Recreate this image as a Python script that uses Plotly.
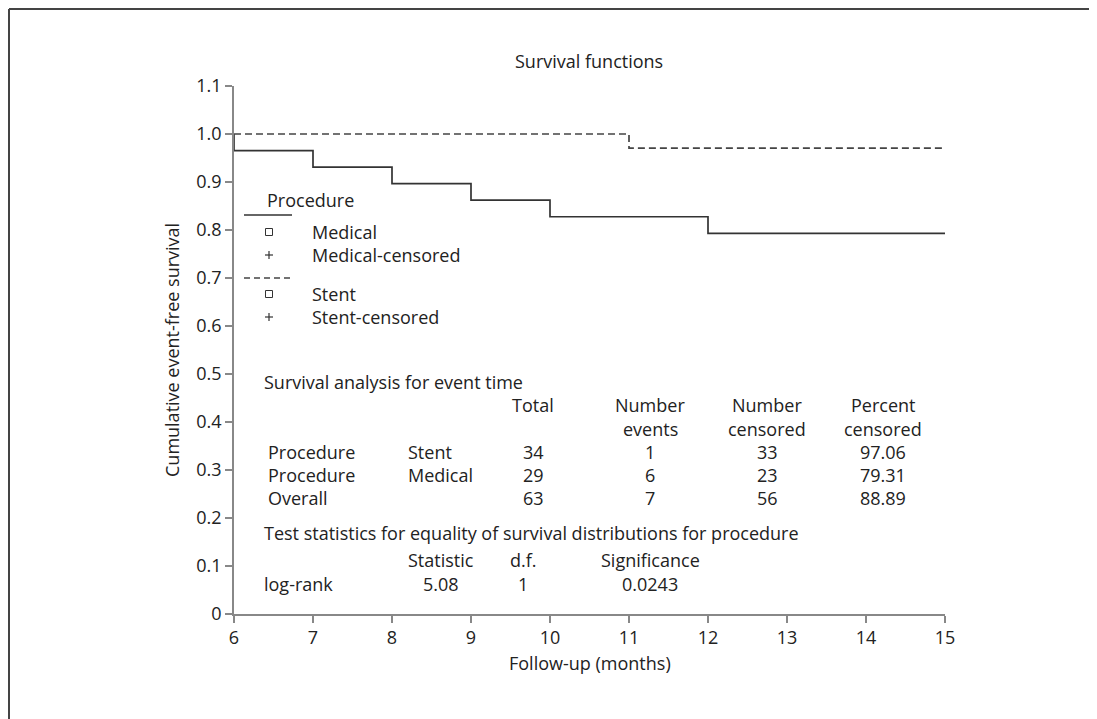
import plotly.graph_objects as go

# ---- data ----
medical_t = [6, 6, 7, 8, 9, 10, 12, 15]
medical_s = [1.0, 0.9655, 0.9310, 0.8966, 0.8621, 0.8276, 0.7931, 0.7931]
stent_t = [6, 11, 15]
stent_s = [1.0, 0.9706, 0.9706]

x_ticks = [6, 7, 8, 9, 10, 11, 12, 13, 14, 15]
y_ticks = [0, 0.1, 0.2, 0.3, 0.4, 0.5, 0.6, 0.7, 0.8, 0.9, 1.0, 1.1]
y_ticktext = ["0", "0.1", "0.2", "0.3", "0.4", "0.5", "0.6", "0.7", "0.8", "0.9", "1.0", "1.1"]

legend_title = "Procedure"
legend_items = ["Medical", "Medical-censored", "Stent", "Stent-censored"]

table_title = "Survival analysis for event time"
table_headers = [["Total", ""], ["Number", "events"], ["Number", "censored"], ["Percent", "censored"]]
table_rows = [
    ["Procedure", "Stent", "34", "1", "33", "97.06"],
    ["Procedure", "Medical", "29", "6", "23", "79.31"],
    ["Overall", "", "63", "7", "56", "88.89"],
]
test_title = "Test statistics for equality of survival distributions for procedure"
test_headers = ["Statistic", "d.f.", "Significance"]
test_row = ["log-rank", "5.08", "1", "0.0243"]

# ---- layout geometry (window pixels; page body has an 8px margin) ----
W, H = 1097, 719
OFF = 8
L, R, T, B = 234, 945, 86, 614
FONT = "Open Sans"
TXT = "#222222"
FS = 18


def px(x):
    return (x - L) / (R - L)


def py(y):
    return (B - y) / (B - T)


fig = go.Figure()
fig.add_trace(go.Scatter(x=medical_t, y=medical_s, mode="lines",
                         line=dict(shape="hv", color="#333333", width=1.7),
                         showlegend=False, hoverinfo="skip"))
fig.add_trace(go.Scatter(x=stent_t, y=stent_s, mode="lines",
                         line=dict(shape="hv", color="#444444", width=1.7, dash="7px,4px"),
                         showlegend=False, hoverinfo="skip"))

ann = []
shapes = []


def text(x, y, s, anchor="left"):
    ann.append(dict(x=px(x), y=py(y), xref="paper", yref="paper", text=s,
                    showarrow=False, xanchor=anchor, yanchor="middle",
                    font=dict(family=FONT, size=FS, color=TXT)))


def hline(x0, x1, y, dash=None, width=1.5, color="#333333"):
    ln = dict(color=color, width=width)
    if dash:
        ln["dash"] = dash
    shapes.append(dict(type="line", xref="paper", yref="paper", x0=px(x0), x1=px(x1),
                       y0=py(y), y1=py(y), line=ln))


# title
text(589, 61, "Survival functions", "center")

# legend block
text(265, 200, legend_title)
hline(244, 292, 215)
hline(244, 292, 278, dash="6px,4px", color="#444444")
leg_y = [232, 255, 294, 317]
for i, (lab, yy) in enumerate(zip(legend_items, leg_y)):
    text(310, yy, lab)
    if i % 2 == 0:
        shapes.append(dict(type="rect", xref="paper", yref="paper", x0=px(265.5), x1=px(272.5),
                           y0=py(yy + 3.5), y1=py(yy - 3.5),
                           line=dict(color="#333333", width=1)))
    else:
        hline(265, 273, yy, width=1.2)
        shapes.append(dict(type="line", xref="paper", yref="paper", x0=px(269), x1=px(269),
                           y0=py(yy - 4), y1=py(yy + 4), line=dict(color="#333333", width=1.2)))

# survival table
text(262, 382, table_title)
col_x = [533, 650, 767, 883]
for cx, (h1, h2) in zip(col_x, table_headers):
    text(cx, 405, h1, "center")
    if h2:
        text(cx, 429, h2, "center")
row_y = [452, 475, 498]
for ry, row in zip(row_y, table_rows):
    text(266, ry, row[0])
    if row[1]:
        text(406, ry, row[1])
    for cx, v in zip(col_x, row[2:]):
        text(cx, ry, v, "center")

# test statistics
text(262, 533, test_title)
tcol_x = [441, 523, 650]
for cx, h in zip(tcol_x, test_headers):
    text(cx, 560, h, "center")
text(262, 584, test_row[0])
for cx, v in zip(tcol_x, test_row[1:]):
    text(cx, 584, v, "center")

# axis titles
text(590, 663, "Follow-up (months)", "center")
ann.append(dict(x=px(172), y=py(350), xref="paper", yref="paper", text="Cumulative event-free survival",
                showarrow=False, textangle=-90, xanchor="center", yanchor="middle",
                font=dict(family=FONT, size=FS, color=TXT)))

# outer frame (top and left edges only)
shapes.append(dict(type="line", xref="paper", yref="paper", x0=px(OFF + 1), x1=px(1110),
                   y0=py(OFF + 1), y1=py(OFF + 1), line=dict(color="#444444", width=2)))
shapes.append(dict(type="line", xref="paper", yref="paper", x0=px(OFF + 1), x1=px(OFF + 1),
                   y0=py(OFF + 1), y1=py(740), line=dict(color="#444444", width=2)))

fig.update_layout(
    width=W, height=H,
    margin=dict(l=L - OFF, r=W - R + OFF, t=T - OFF, b=H - B + OFF, autoexpand=False),
    paper_bgcolor="white", plot_bgcolor="white",
    annotations=ann, shapes=shapes,
    font=dict(family=FONT, size=FS, color=TXT),
    xaxis=dict(range=[6, 15], tickvals=x_ticks, showgrid=False, zeroline=False,
               showline=True, linecolor="#888888", linewidth=1.5,
               ticks="outside", ticklen=7, tickcolor="#888888", tickwidth=1.5,
               tickfont=dict(family=FONT, size=FS, color=TXT), fixedrange=True),
    yaxis=dict(range=[0, 1.1], tickvals=y_ticks, ticktext=y_ticktext, showgrid=False, zeroline=False,
               showline=True, linecolor="#888888", linewidth=1.5,
               ticks="outside", ticklen=7, tickcolor="#888888", tickwidth=1.5,
               tickfont=dict(family=FONT, size=FS, color=TXT), fixedrange=True),
)

fig.write_html("out.html")
